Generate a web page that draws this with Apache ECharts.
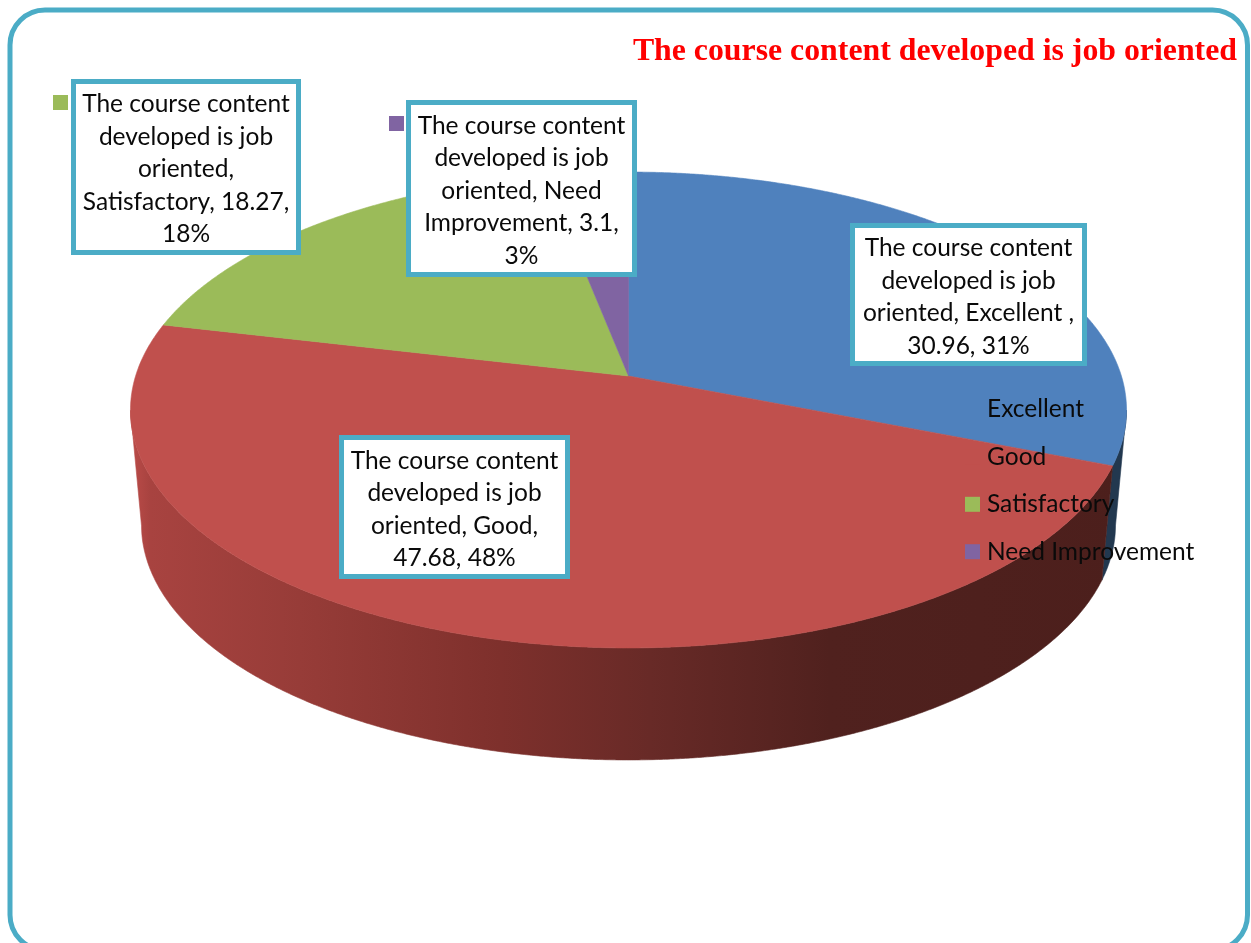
<!DOCTYPE html>
<html>
<head>
<meta charset="utf-8">
<style>html,body{margin:0;padding:0;background:#fff}#c{width:1251px;height:943px}</style>
<script src="https://cdn.jsdelivr.net/npm/echarts@6/dist/echarts.min.js"></script>
</head>
<body>
<div id="c"></div>
<script>
const chartTitle = 'The course content developed is job oriented';
const categories = ['Excellent', 'Good', 'Satisfactory', 'Need Improvement'];
const values = [30.96, 47.68, 18.27, 3.1];
const topColors = ['#4F81BD', '#C0504D', '#9BBB59', '#8064A2'];
const labelExcellent = ['The course content', 'developed is job', 'oriented, Excellent ,', '30.96, 31%'];
const labelGood = ['The course content', 'developed is job', 'oriented, Good,', '47.68, 48%'];
const labelSatisfactory = ['The course content', 'developed is job', 'oriented,', 'Satisfactory, 18.27,', '18%'];
const labelNeed = ['The course content', 'developed is job', 'oriented, Need', 'Improvement, 3.1,', '3%'];

const FRAME = '#4BACC6';
const FONT = 'Lato';
const total = values.reduce((a, b) => a + b, 0);
const rad = d => d * Math.PI / 180;

// perspective projection of the pie disc
const apex = { x: 628.5, y: 376 };
const k = 1 / 7, A = 233.1, B = 492.9;
function project(deg) {
  const u = Math.sin(rad(deg)), v = -Math.cos(rad(deg));
  const w = 1 - k * v;
  return [apex.x + B * u / w, apex.y + A * v / w];
}
const topEll = { x: 628.5, y: 410, rx: 498, ry: 238 };
const botEll = { x: 628.5, y: 525, rx: 487, ry: 235 };
function toBottom(p) {
  const c = (p[0] - topEll.x) / topEll.rx, s = (p[1] - topEll.y) / topEll.ry;
  return [botEll.x + botEll.rx * c, botEll.y + botEll.ry * s];
}
const wallStop = x => (x - 130) / 997;
const wallFill = [
  '#22384F',
  new echarts.graphic.LinearGradient(130, 0, 1127, 0, [
    { offset: wallStop(130), color: '#BC4C49' },
    { offset: wallStop(150), color: '#A84340' },
    { offset: wallStop(300), color: '#973C38' },
    { offset: wallStop(500), color: '#7E302C' },
    { offset: wallStop(650), color: '#682A27' },
    { offset: wallStop(830), color: '#50211E' },
    { offset: wallStop(1127), color: '#4C1F1C' }
  ], true),
  '#76923C', '#5F497A'
];

function sliceSpan(i) {
  let s = 0;
  for (let j = 0; j < i; j++) s += values[j];
  return [s / total * 360, (s + values[i]) / total * 360];
}
function sliceRender(i) {
  return function () {
    const span = sliceSpan(i), pts = [];
    for (let d = span[0]; d < span[1]; d += 0.25) pts.push(project(d));
    pts.push(project(span[1]));
    const front = pts.filter(p => p[1] >= topEll.y);
    const children = [];
    if (front.length > 1) {
      children.push({
        type: 'polygon', silent: true,
        shape: { points: front.concat(front.slice().reverse().map(toBottom)) },
        style: { fill: wallFill[i], stroke: wallFill[i], lineWidth: 0.6 }
      });
    }
    children.push({
      type: 'polygon', silent: true,
      shape: { points: [[apex.x, apex.y]].concat(pts) },
      style: { fill: topColors[i], stroke: topColors[i], lineWidth: 0.6 }
    });
    return { type: 'group', children: children };
  };
}

function box(x, y, w, h, lines) {
  return [
    { type: 'rect', z: 50, silent: true, shape: { x: x + 2.5, y: y + 2.5, width: w - 5, height: h - 5 },
      style: { fill: '#fff', stroke: FRAME, lineWidth: 5 } },
    { type: 'text', z: 51, silent: true, x: x + w / 2, y: y + h / 2 + 2.5,
      style: { text: lines.join('\n'), fill: '#0a0a0a', font: '24.5px ' + FONT, lineHeight: 32.5, align: 'center', verticalAlign: 'middle' } }
  ];
}

const chart = echarts.init(document.getElementById('c'), null, { renderer: 'canvas' });
chart.setOption({
  animation: false,
  backgroundColor: '#fff',
  title: {
    text: chartTitle, right: 14, top: 35, padding: 0,
    textStyle: { color: '#FF0000', fontFamily: 'Liberation Serif', fontWeight: 'bold', fontSize: 31.8, lineHeight: 34 }
  },
  legend: {
    orient: 'vertical', left: 965, top: 397, padding: 0,
    itemWidth: 15, itemHeight: 15, itemGap: 22.4, icon: 'rect', selectedMode: false, z: 40,
    data: categories,
    textStyle: { color: '#0a0a0a', fontFamily: FONT, fontSize: 24.5, lineHeight: 24, padding: [0, 0, 0, 2] }
  },
  graphic: [
    { type: 'rect', z: 60, silent: true, shape: { x: 10, y: 10, width: 1237.5, height: 940, r: 35 },
      style: { fill: 'none', stroke: FRAME, lineWidth: 5 } },
    { type: 'rect', z: 50, silent: true, shape: { x: 53, y: 95, width: 15, height: 15 }, style: { fill: topColors[2] } },
    { type: 'rect', z: 50, silent: true, shape: { x: 389, y: 116, width: 15, height: 15 }, style: { fill: topColors[3] } }
  ].concat(
    box(71, 79, 230, 176, labelSatisfactory),
    box(406, 100, 231, 177, labelNeed),
    box(850, 223, 237, 143, labelExcellent),
    box(339, 435, 231, 144, labelGood)
  ),
  series: categories.map((name, i) => ({
    type: 'custom', name: name, coordinateSystem: 'none', silent: true, z: 2,
    itemStyle: { color: topColors[i] },
    data: [[values[i]]],
    renderItem: sliceRender(i)
  }))
});
</script>
</body>
</html>
